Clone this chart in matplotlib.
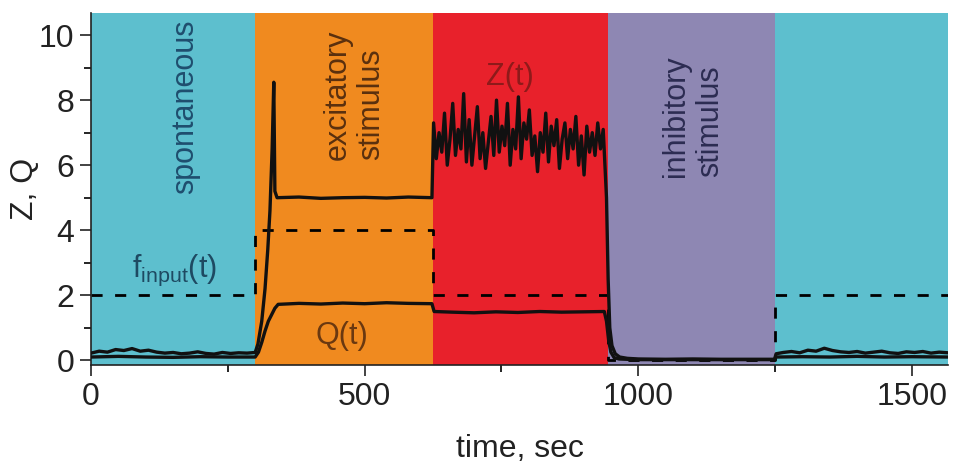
import matplotlib
matplotlib.use("Agg")
import matplotlib.pyplot as plt
from matplotlib.ticker import MultipleLocator

plt.rcParams['font.family'] = ['Liberation Sans', 'DejaVu Sans']

# ---- data ----
phase_bounds = [0, 300, 625, 945, 1250, 1566]
phase_colors = ['#5DBFCE', '#F08A1F', '#E8212B', '#8E87B3', '#5DBFCE']

f_t = [0, 300, 300, 625, 625, 945, 945, 1250, 1250, 1566]
f_v = [2, 2, 4, 4, 2, 2, 0, 0, 2, 2]

z_spont_t = [0, 15, 30, 45, 60, 75, 90, 105, 120, 135, 150, 165, 180, 195, 210, 225, 240, 255, 270, 285, 300]
z_spont_v = [0.22, 0.28, 0.25, 0.33, 0.30, 0.36, 0.28, 0.31, 0.25, 0.22, 0.24, 0.20, 0.22, 0.26, 0.21, 0.19, 0.24, 0.21, 0.23, 0.22, 0.24]
z_exc_t = [305, 312, 318, 323, 327, 331, 334, 336, 340, 380, 420, 460, 500, 540, 580, 623]
z_exc_v = [0.5, 1.2, 2.2, 3.4, 4.6, 6.5, 8.55, 5.2, 5.0, 5.02, 4.98, 5.0, 5.01, 4.99, 5.02, 5.0]
z_red_v = [7.3, 6.2, 7.0, 6.4, 7.6, 6.0, 6.8, 7.9, 6.3, 7.1, 6.5, 8.2, 6.1, 7.4, 6.0,
           6.9, 7.8, 6.2, 7.0, 5.9, 6.7, 7.5, 6.3, 8.0, 6.4, 7.2, 6.6, 7.9, 6.0, 7.1,
           6.5, 8.1, 6.2, 7.3, 6.8, 7.7, 6.3, 6.9, 5.8, 7.0, 6.4, 7.6, 6.1, 7.2, 6.6,
           7.4, 5.9, 6.8, 7.3, 6.2, 7.1, 6.5, 7.5, 6.0, 6.9, 5.7, 7.2, 6.4, 7.0, 6.3,
           7.3, 6.5, 7.1]
z_red_t = [626 + 5 * i for i in range(len(z_red_v))]
z_dec_t = [942, 945, 948, 952, 958, 966, 980, 1000, 1050, 1100, 1150, 1200, 1249]
z_dec_v = [5.0, 2.5, 1.0, 0.45, 0.2, 0.1, 0.06, 0.04, 0.03, 0.04, 0.03, 0.03, 0.03]
z_late_t = [1252, 1265, 1280, 1295, 1310, 1325, 1340, 1355, 1370, 1385, 1400, 1415, 1430, 1445, 1460, 1475, 1490, 1505, 1520, 1535, 1550, 1566]
z_late_v = [0.2, 0.24, 0.27, 0.23, 0.31, 0.28, 0.37, 0.30, 0.26, 0.24, 0.27, 0.22, 0.25, 0.28, 0.23, 0.21, 0.26, 0.24, 0.27, 0.22, 0.25, 0.23]

q_t = [0, 50, 100, 150, 200, 250, 300, 306, 312, 318, 324, 330, 336, 342, 380, 420, 460, 500, 540, 580, 623,
       627, 660, 700, 740, 780, 820, 860, 900, 938, 942, 946, 950, 956, 965, 980, 1000, 1100, 1200, 1249,
       1252, 1300, 1350, 1400, 1450, 1500, 1566]
q_v = [0.1, 0.12, 0.1, 0.09, 0.11, 0.1, 0.1, 0.25, 0.55, 0.9, 1.2, 1.4, 1.6, 1.72, 1.75, 1.73, 1.76, 1.74, 1.77, 1.75, 1.74,
       1.5, 1.48, 1.46, 1.49, 1.47, 1.5, 1.48, 1.49, 1.5, 1.2, 0.6, 0.25, 0.08, 0.04, 0.03, 0.02, 0.02, 0.02, 0.02,
       0.1, 0.11, 0.1, 0.12, 0.1, 0.11, 0.1]

# ---- figure ----
fig = plt.figure(figsize=(9.56, 4.73), dpi=100)
ax = fig.add_axes([0.0952, 0.228, 0.8964, 0.7445])

for i, c in enumerate(phase_colors):
    ax.axvspan(phase_bounds[i], phase_bounds[i + 1], color=c, lw=0, zorder=0)

ax.plot(f_t, f_v, color='black', lw=2.0, ls=(0, (4, 4.5)), zorder=2)

z_t = z_spont_t + z_exc_t + z_red_t + z_dec_t + z_late_t
z_v = z_spont_v + z_exc_v + z_red_v + z_dec_v + z_late_v
ax.plot(z_t, z_v, color='#111111', lw=2.4, zorder=3)
ax.plot(q_t, q_v, color='#111111', lw=2.4, zorder=3)

fs = 22
ax.text(172, 7.8, 'spontaneous', rotation=90, ha='center', va='center', fontsize=fs, color='#1F4E6E')
ax.text(481, 8.15, 'excitatory\nstimulus', rotation=90, ha='center', va='center', multialignment='left',
        fontsize=fs, color='#5A300E', linespacing=1.15)
ax.text(1100, 7.5, 'inhibitory\nstimulus', rotation=90, ha='center', va='center', multialignment='left',
        fontsize=fs, color='#2C2C52', linespacing=1.15)
ax.text(765, 8.7, 'Z(t)', ha='center', va='center', fontsize=fs, color='#8E1A1A')
ax.text(152, 2.75, r'f$_{\mathregular{input}}$(t)', ha='center', va='center', fontsize=fs, color='#1E4A62')
ax.text(459, 0.75, 'Q(t)', ha='center', va='center', fontsize=fs, color='#6A3810')

ax.set_xlim(0, 1566)
ax.set_ylim(-0.15, 10.68)
ax.xaxis.set_major_locator(MultipleLocator(500))
ax.xaxis.set_minor_locator(MultipleLocator(250))
ax.yaxis.set_major_locator(MultipleLocator(2))
ax.yaxis.set_minor_locator(MultipleLocator(1))
ax.tick_params(which='major', direction='out', length=8, width=1.2, labelsize=23, colors='#222222', pad=4)
ax.tick_params(which='minor', direction='out', length=5, width=1.2)
for s in ['top', 'right']:
    ax.spines[s].set_visible(False)
for s in ['left', 'bottom']:
    ax.spines[s].set_linewidth(1.2)
    ax.spines[s].set_color('#222222')

ax.set_xlabel('time, sec', fontsize=23, color='#222222', labelpad=16)
ax.set_ylabel('Z, Q', fontsize=23, color='#222222', labelpad=-1)

fig.savefig('out.png', dpi=100)
